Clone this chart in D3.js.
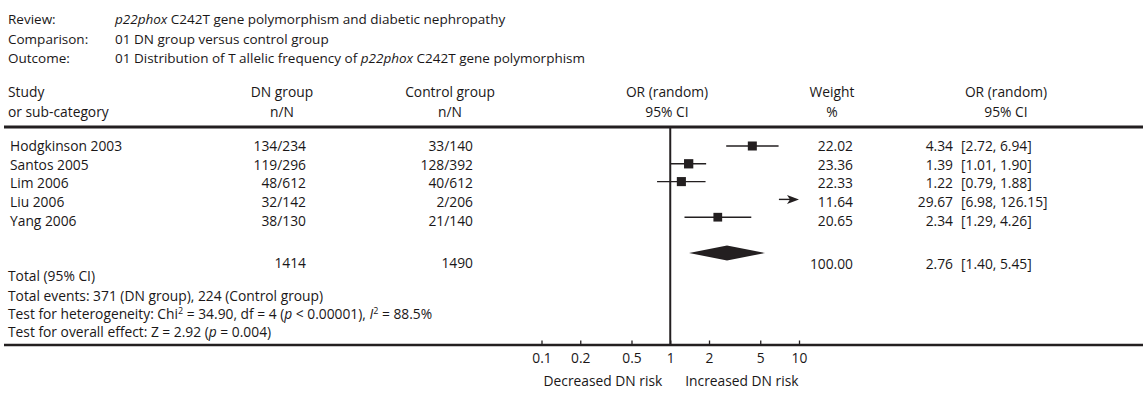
<!DOCTYPE html>
<html>
<head>
<meta charset="utf-8">
<script src="https://cdn.jsdelivr.net/npm/d3@7"></script>
<style>
  body { margin: 0; background: #fff; }
  svg text { font-family: "Open Sans", "Noto Sans", sans-serif; font-size: 13.8px; fill: #1a1718; }
</style>
</head>
<body>
<div id="wrapper"></div>
<script>
// data
const studies = ["Hodgkinson 2003", "Santos 2005", "Lim 2006", "Liu 2006", "Yang 2006"]
const dnEvents = [134, 119, 48, 32, 38]
const dnTotal = [234, 296, 612, 142, 130]
const ctrlEvents = [33, 128, 40, 2, 21]
const ctrlTotal = [140, 392, 612, 206, 140]
const weights = [22.02, 23.36, 22.33, 11.64, 20.65]
const orValues = [4.34, 1.39, 1.22, 29.67, 2.34]
const ciLower = [2.72, 1.01, 0.79, 6.98, 1.29]
const ciUpper = [6.94, 1.9, 1.88, 126.15, 4.26]
const totalDN = 1414
const totalCtrl = 1490
const totalWeight = 100.0
const totalOR = [2.76, 1.4, 5.45]
const tickValues = [0.1, 0.2, 0.5, 1, 2, 5, 10]

const renderChart = () => {
  const dimensions = { width: 1148, height: 393 }
  const ink = "#231f20"

  const svg = d3
    .select("#wrapper")
    .append("svg")
    .attr("width", dimensions.width)
    .attr("height", dimensions.height)

  // scales
  const xScale = d3.scaleLog().domain([0.1, 10]).range([541.5, 799])
  const textY = d3.scaleLinear().domain([0, 4]).range([151, 225.8])
  const markY = d3.scaleLinear().domain([0, 4]).range([146, 217.2])
  const boxSize = d3.scaleSqrt().domain([0, 25]).range([0, 9.6])

  const fmt2 = d3.format(".2f")

  // header block
  const header = [
    ["Review:", [["p22phox", true], [" C242T gene polymorphism and diabetic nephropathy", false]]],
    ["Comparison:", [["01 DN group versus control group", false]]],
    ["Outcome:", [["01 Distribution of T allelic frequency of ", false], ["p22phox", true], [" C242T gene polymorphism", false]]],
  ]
  header.forEach(([label, parts], i) => {
    const y = 24 + i * 19.5
    svg.append("text").attr("x", 8).attr("y", y).style("font-size", "13.5px").text(label)
    const t = svg.append("text").attr("x", 115).attr("y", y).style("font-size", "13.5px")
    parts.forEach(([s, it]) =>
      t.append("tspan").style("font-style", it ? "italic" : "normal").text(s)
    )
  })

  // column headers
  const colHeads = [
    { x: 8, anchor: "start", lines: ["Study", "or sub-category"] },
    { x: 282, anchor: "middle", lines: ["DN group", "n/N"] },
    { x: 450, anchor: "middle", lines: ["Control group", "n/N"] },
    { x: 667, anchor: "middle", lines: ["OR (random)", "95% CI"] },
    { x: 832, anchor: "middle", lines: ["Weight", "%"] },
    { x: 1006, anchor: "middle", lines: ["OR (random)", "95% CI"] },
  ]
  colHeads.forEach((c) => {
    c.lines.forEach((l, j) => {
      svg
        .append("text")
        .attr("x", c.x)
        .attr("y", 97 + j * 20)
        .attr("text-anchor", c.anchor)
        .text(l)
    })
  })

  // rules
  svg.append("line").attr("x1", 4).attr("x2", 1143).attr("y1", 127).attr("y2", 127)
    .attr("stroke", ink).attr("stroke-width", 3)
  svg.append("line").attr("x1", 4).attr("x2", 1143).attr("y1", 345).attr("y2", 345)
    .attr("stroke", ink).attr("stroke-width", 2.5)

  // study rows text
  studies.forEach((s, i) => {
    const y = textY(i)
    svg.append("text").attr("x", 10).attr("y", y).text(s)
    svg.append("text").attr("x", 306).attr("y", y).attr("text-anchor", "end")
      .text(`${dnEvents[i]}/${dnTotal[i]}`)
    svg.append("text").attr("x", 473).attr("y", y).attr("text-anchor", "end")
      .text(`${ctrlEvents[i]}/${ctrlTotal[i]}`)
    svg.append("text").attr("x", 853).attr("y", y).attr("text-anchor", "end")
      .text(fmt2(weights[i]))
    svg.append("text").attr("x", 953).attr("y", y).attr("text-anchor", "end")
      .text(fmt2(orValues[i]))
    svg.append("text").attr("x", 961).attr("y", y)
      .text(`[${fmt2(ciLower[i])}, ${fmt2(ciUpper[i])}]`)
  })

  // totals
  svg.append("text").attr("x", 8).attr("y", 281).text("Total (95% CI)")
  svg.append("text").attr("x", 306).attr("y", 268).attr("text-anchor", "end").text(totalDN)
  svg.append("text").attr("x", 473).attr("y", 268).attr("text-anchor", "end").text(totalCtrl)
  svg.append("text").attr("x", 853).attr("y", 269).attr("text-anchor", "end").text(fmt2(totalWeight))
  svg.append("text").attr("x", 953).attr("y", 269).attr("text-anchor", "end").text(fmt2(totalOR[0]))
  svg.append("text").attr("x", 961).attr("y", 269)
    .text(`[${fmt2(totalOR[1])}, ${fmt2(totalOR[2])}]`)

  // footnotes
  const sumDN = d3.sum(dnEvents)
  const sumCtrl = d3.sum(ctrlEvents)
  const notes = [
    [[`Total events: ${sumDN} (DN group), ${sumCtrl} (Control group)`, ""]],
    [
      ["Test for heterogeneity: Chi", ""], ["2", "sup"], [" = 34.90, df = 4 (", ""],
      ["p", "i"], [" < 0.00001), ", ""], ["I", "i"], ["2", "sup"], [" = 88.5%", ""],
    ],
    [["Test for overall effect: Z = 2.92 (", ""], ["p", "i"], [" = 0.004)", ""]],
  ]
  notes.forEach((parts, i) => {
    const t = svg.append("text").attr("x", 8).attr("y", 301 + i * 18)
    let prevSup = false
    parts.forEach(([s, kind]) => {
      const sp = t.append("tspan").text(s)
      if (kind === "i") sp.style("font-style", "italic")
      if (prevSup) sp.attr("dy", 5)
      if (kind === "sup") sp.attr("dy", -5).style("font-size", "9px")
      prevSup = kind === "sup"
    })
  })

  // axis
  const xAxis = d3
    .axisBottom(xScale)
    .tickValues(tickValues)
    .tickFormat(d3.format("~g"))
    .tickSizeInner(-4.5)
    .tickSizeOuter(0)
    .tickPadding(8)
  const axisG = svg.append("g").attr("transform", "translate(0,345)").call(xAxis)
  axisG.select(".domain").remove()
  axisG.selectAll(".tick line").attr("stroke", ink).attr("stroke-width", 1.3)
  axisG.selectAll(".tick text")
    .attr("font-family", null).attr("font-size", null)
    .style("font-size", "13.8px").attr("fill", null)

  svg.append("text").attr("x", xScale(1) - 8).attr("y", 386).attr("text-anchor", "end")
    .text("Decreased DN risk")
  svg.append("text").attr("x", xScale(1) + 15).attr("y", 386).text("Increased DN risk")

  // line of no effect
  svg.append("line").attr("x1", xScale(1)).attr("x2", xScale(1))
    .attr("y1", 127).attr("y2", 345).attr("stroke", ink).attr("stroke-width", 2)

  // study marks
  const [dMin, dMax] = xScale.domain()
  studies.forEach((s, i) => {
    const y = markY(i)
    const lo = Math.max(ciLower[i], dMin)
    const hi = Math.min(ciUpper[i], dMax)
    const inside = orValues[i] <= dMax && orValues[i] >= dMin
    if (hi < ciUpper[i]) {
      // truncated interval: arrow toward the edge of the scale
      const xEnd = xScale(hi)
      svg.append("line").attr("x1", xScale(lo)).attr("x2", xEnd - 6)
        .attr("y1", y).attr("y2", y).attr("stroke", ink).attr("stroke-width", 1.4)
      svg.append("path")
        .attr("d", `M${xEnd},${y} L${xEnd - 12},${y - 4.5} L${xEnd - 9},${y} L${xEnd - 12},${y + 4.5} Z`)
        .attr("fill", ink)
    } else {
      svg.append("line").attr("x1", xScale(lo)).attr("x2", xScale(hi))
        .attr("y1", y).attr("y2", y).attr("stroke", ink).attr("stroke-width", 1.4)
    }
    if (inside) {
      const sz = boxSize(weights[i])
      svg.append("rect")
        .attr("x", xScale(orValues[i]) - sz / 2)
        .attr("y", y - sz / 2)
        .attr("width", sz)
        .attr("height", sz)
        .attr("fill", ink)
    }
  })

  // pooled diamond
  const dy = 253
  svg.append("path")
    .attr("d", `M${xScale(totalOR[1])},${dy} L${xScale(totalOR[0])},${dy - 7.5} L${xScale(totalOR[2])},${dy} L${xScale(totalOR[0])},${dy + 7.5} Z`)
    .attr("fill", ink)
}

renderChart()
</script>
</body>
</html>
